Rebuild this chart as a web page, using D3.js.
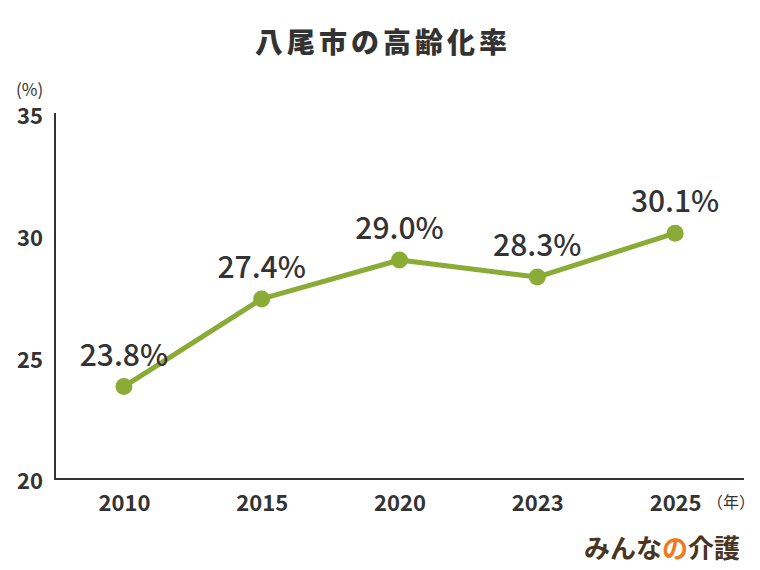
<!DOCTYPE html>
<html><head><meta charset="utf-8">
<script src="https://cdn.jsdelivr.net/npm/d3@7"></script>
<style>body{margin:0;background:#fff}svg{display:block}text{font-family:"Noto Sans CJK JP","Noto Sans",sans-serif}</style>
</head><body><svg id="c" width="760" height="570"></svg>
<script>
const years = ["2010","2015","2020","2023","2025"];
const rates = [23.8, 27.4, 29.0, 28.3, 30.1];
const yTicks = [20, 25, 30, 35];

const svg = d3.select("#c");
const W = 760, H = 570;
const m = {left:55, right:16, top:114, bottom:91};
const x = d3.scalePoint().domain(years).range([m.left, W - m.right]).padding(0.5);
const y = d3.scaleLinear().domain([20, 35]).range([H - m.bottom, m.top]);
const green = "#8aab35", dark = "#333333";

svg.append("text").attr("x", 383).attr("y", 53).attr("text-anchor","middle")
  .attr("font-size", 28).attr("font-weight", 900).attr("letter-spacing", 4).attr("fill", dark)
  .text("八尾市の高齢化率");

// axes
const yAxis = svg.append("g").attr("transform", `translate(${m.left},0)`)
  .call(d3.axisLeft(y).tickValues(yTicks).tickSize(0).tickPadding(12));
yAxis.select(".domain").attr("stroke", dark).attr("stroke-width", 2).attr("d", `M0,${m.top-1}V${H-m.bottom}`);
yAxis.selectAll("text").attr("font-size", 22).attr("font-weight", 700).attr("fill", dark)
  .attr("font-family", '"Noto Sans CJK JP",sans-serif').attr("dy", "0.45em").attr("x", -12);

const xAxis = svg.append("g").attr("transform", `translate(0,${H - m.bottom})`)
  .call(d3.axisBottom(x).tickSize(0).tickPadding(12));
xAxis.select(".domain").attr("stroke", dark).attr("stroke-width", 2).attr("d", `M${m.left-1},0H${W - m.right}`);
xAxis.selectAll("text").attr("font-size", 22).attr("font-weight", 700).attr("fill", dark)
  .attr("font-family", '"Noto Sans CJK JP",sans-serif').attr("dy", "0.92em");

svg.append("text").attr("x", 16).attr("y", 96).attr("font-size", 17).attr("fill", dark).text("(%)");
svg.append("text").attr("x", 707).attr("y", 508).attr("font-size", 16).attr("fill", dark).text("（年）");

// line
svg.append("path").datum(rates.map((v,i)=>[years[i],v]))
  .attr("fill","none").attr("stroke", green).attr("stroke-width", 5).attr("stroke-linejoin","round")
  .attr("d", d3.line().x(d=>x(d[0])).y(d=>y(d[1])));
svg.selectAll("circle.pt").data(rates).join("circle")
  .attr("cx",(d,i)=>x(years[i])).attr("cy", d=>y(d)).attr("r", 8.5).attr("fill", green);
svg.selectAll("text.lbl").data(rates).join("text").attr("class","lbl")
  .attr("x",(d,i)=>x(years[i])).attr("y", d=>y(d) - 21).attr("text-anchor","middle")
  .attr("font-size", 30).attr("font-weight", 500).attr("fill", dark)
  .text(d=>d.toFixed(1) + "%");

// logo
const logo = svg.append("text").attr("x", 740).attr("y", 558).attr("text-anchor","end")
  .attr("font-size", 26).attr("font-weight", 700).attr("fill", "#4a3422");
logo.append("tspan").text("みんな");
logo.append("tspan").attr("fill", "#ee7a1f").text("の");
logo.append("tspan").text("介護");
</script></body></html>
